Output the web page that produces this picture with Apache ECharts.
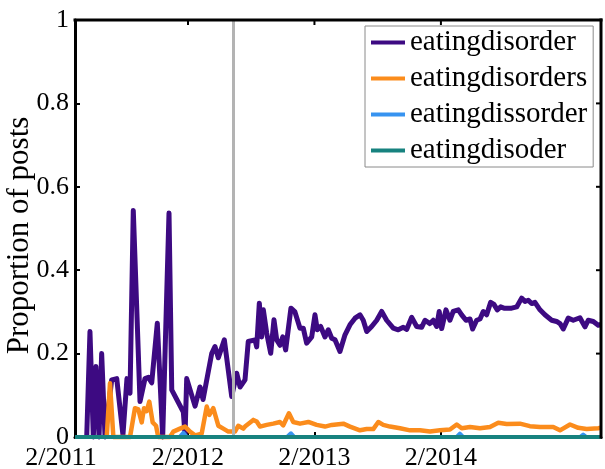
<!DOCTYPE html>
<html>
<head>
<meta charset="utf-8">
<script src="https://cdn.jsdelivr.net/npm/echarts@6/dist/echarts.min.js"></script>
<style>
  html, body { margin: 0; padding: 0; background: #fff; }
  #chart { width: 605px; height: 469px; background: #fff; }
</style>
</head>
<body>
<div id="chart"></div>
<script>
// x values are months since 2/2011
const xMin = 1.28;
const xMax = 51.19;
const xTickMonths = [0, 12, 24, 36];
const xTickLabels = ['2/2011', '2/2012', '2/2013', '2/2014'];
const markerMonth = 16.25;

const seriesNames = ['eatingdisorder', 'eatingdisorders', 'eatingdissorder', 'eatingdisoder'];
const seriesColors = ['#3d0a82', '#fb8c1c', '#3793f0', '#17827f'];

const purpleMonths = [2.39, 2.70, 3.02, 3.27, 3.56, 3.81, 4.13, 4.76, 5.24, 5.83, 6.21, 6.50, 6.81, 7.45, 7.92, 8.24, 8.56, 9.09, 9.60, 10.20, 10.46, 11.56, 11.72, 11.88, 12.67, 13.14, 13.43, 14.25, 14.56, 14.88, 15.45, 16.15, 16.62, 16.94, 17.41, 17.72, 18.36, 18.52, 18.77, 18.99, 19.15, 19.47, 19.85, 20.16, 20.42, 20.73, 20.99, 21.27, 21.77, 22.15, 22.63, 22.94, 23.26, 23.74, 24.05, 24.27, 24.59, 25.00, 25.31, 25.64, 25.95, 26.42, 26.90, 27.37, 27.85, 28.32, 28.63, 28.96, 29.43, 29.91, 30.38, 30.85, 31.48, 31.95, 32.43, 32.75, 33.23, 33.70, 34.17, 34.49, 34.96, 35.28, 35.60, 35.84, 36.07, 36.48, 36.86, 37.17, 37.65, 37.97, 38.38, 38.76, 39.01, 39.39, 39.71, 40.02, 40.34, 40.72, 41.03, 41.35, 41.67, 41.98, 42.30, 42.71, 43.19, 43.66, 43.98, 44.29, 44.61, 44.92, 45.40, 45.87, 46.51, 46.98, 47.30, 47.61, 48.08, 48.56, 49.19, 49.67, 49.98, 50.46, 50.93, 51.19];
const purpleValues = [0, 0.253, 0, 0.169, 0, 0.20, 0, 0.137, 0.14, 0.005, 0.14, 0.105, 0.543, 0.085, 0.14, 0.143, 0.13, 0.273, 0.0, 0.537, 0.113, 0.06, 0.005, 0.14, 0.074, 0.12, 0.09, 0.20, 0.217, 0.19, 0.233, 0.097, 0.153, 0.12, 0.137, 0.229, 0.233, 0.216, 0.321, 0.24, 0.305, 0.249, 0.201, 0.281, 0.233, 0.22, 0.24, 0.209, 0.309, 0.30, 0.261, 0.261, 0.225, 0.24, 0.293, 0.257, 0.265, 0.24, 0.257, 0.237, 0.233, 0.205, 0.245, 0.269, 0.285, 0.293, 0.28, 0.253, 0.265, 0.28, 0.301, 0.28, 0.261, 0.257, 0.263, 0.258, 0.287, 0.265, 0.263, 0.28, 0.272, 0.28, 0.265, 0.301, 0.26, 0.305, 0.28, 0.301, 0.305, 0.293, 0.28, 0.283, 0.259, 0.28, 0.283, 0.301, 0.293, 0.323, 0.318, 0.305, 0.312, 0.309, 0.309, 0.309, 0.312, 0.333, 0.325, 0.328, 0.32, 0.323, 0.305, 0.293, 0.28, 0.277, 0.272, 0.259, 0.285, 0.28, 0.286, 0.264, 0.28, 0.277, 0.268, 0.27];

const orangeMonths = [4.29, 4.60, 4.92, 6.50, 6.97, 7.29, 7.61, 7.83, 8.08, 8.33, 8.65, 8.97, 9.18, 10.29, 10.61, 11.24, 11.72, 12.19, 12.67, 13.30, 13.78, 14.03, 14.40, 14.88, 15.35, 15.83, 16.46, 16.77, 17.25, 17.41, 18.20, 18.52, 18.83, 19.47, 20.09, 20.73, 21.04, 21.58, 21.99, 22.63, 23.42, 24.21, 25.00, 25.64, 26.74, 27.37, 28.32, 28.96, 29.58, 30.06, 30.53, 31.17, 32.12, 33.07, 34.01, 34.96, 35.91, 36.86, 37.50, 37.97, 38.76, 39.71, 40.66, 41.44, 42.24, 43.50, 44.44, 45.40, 46.66, 47.30, 48.25, 49.03, 49.83, 50.93, 51.19];
const orangeValues = [0, 0.129, 0, 0, 0.069, 0.066, 0.035, 0.069, 0.062, 0.085, 0.035, 0.027, 0, 0, 0.013, 0.02, 0.025, 0.013, 0.004, 0.008, 0.073, 0.053, 0.069, 0.027, 0.02, 0.013, 0.013, 0.027, 0.02, 0.025, 0.041, 0.037, 0.025, 0.029, 0.032, 0.036, 0.028, 0.057, 0.036, 0.032, 0.036, 0.029, 0.025, 0.029, 0.032, 0.025, 0.016, 0.019, 0.019, 0.036, 0.029, 0.025, 0.021, 0.016, 0.016, 0.013, 0.016, 0.018, 0.030, 0.021, 0.024, 0.021, 0.024, 0.034, 0.031, 0.032, 0.026, 0.024, 0.024, 0.016, 0.03, 0.022, 0.019, 0.021, 0.022];

const blueMonths = [1.28, 11.2, 11.56, 11.9, 21.4, 21.77, 22.1, 37.5, 37.8, 38.1, 49.2, 49.5, 49.8, 51.19];
const blueValues = [0, 0, 0.01, 0, 0, 0.009, 0, 0, 0.008, 0, 0, 0.006, 0, 0];

const tealMonths = [1.28, 51.19];
const tealValues = [0, 0];

const yTickValues = [0, 0.2, 0.4, 0.6, 0.8, 1];

function zip(xs, ys) { return xs.map((x, i) => [x, ys[i]]); }

const serif = 'Liberation Serif';
const chart = echarts.init(document.getElementById('chart'), null, { renderer: 'canvas' });

const axisLineStyle = { color: '#000', width: 3 };
const tickStyle = { color: '#000', width: 2 };
const monthSeries = [
  [purpleMonths, purpleValues],
  [orangeMonths, orangeValues],
  [blueMonths, blueValues],
  [tealMonths, tealValues]
];
const lineWidths = [5, 4.5, 4, 4];

const option = {
  animation: false,
  grid: {
    left: 75, top: 20, right: 4, bottom: 32, outerBoundsMode: 'none'
  },
  legend: {
    orient: 'vertical',
    left: 365,
    top: 26,
    data: seriesNames,
    icon: 'rect',
    itemWidth: 34,
    itemHeight: 4,
    itemGap: 7,
    padding: [2, 6, 2, 6],
    backgroundColor: '#fff',
    borderColor: '#8a8a8a',
    borderWidth: 1,
    textStyle: { fontFamily: serif, fontSize: 29, color: '#000' },
    z: 10
  },
  xAxis: [
    {
      type: 'value', position: 'bottom', min: xMin, max: xMax,
      axisLine: { show: true, onZero: false, lineStyle: axisLineStyle },
      splitLine: { show: false },
      axisTick: { show: true, inside: true, length: 5, lineStyle: tickStyle, customValues: xTickMonths.slice(1) },
      axisLabel: {
        show: true, margin: 8, color: '#000', fontFamily: serif, fontSize: 26,
        customValues: [xMin].concat(xTickMonths.slice(1)),
        formatter: function (v) {
          if (Math.abs(v - xMin) < 1e-6) return '{first|' + xTickLabels[0] + '}';
          const i = xTickMonths.indexOf(Math.round(v));
          return i >= 0 ? xTickLabels[i] : '';
        },
        rich: { first: { fontFamily: serif, fontSize: 26, color: '#000', padding: [0, 28, 0, 0] } }
      }
    }
  ],
  yAxis: [
    {
      type: 'value', position: 'left', min: 0, max: 1, interval: 0.2,
      name: 'Proportion of posts', nameLocation: 'middle', nameGap: 40, nameMoveOverlap: false,
      nameTextStyle: { fontFamily: serif, fontSize: 31, color: '#000', padding: [0, 14, 0, 0] },
      axisLine: { show: true, onZero: false, lineStyle: axisLineStyle },
      splitLine: { show: false },
      axisTick: { show: true, inside: true, length: 5, lineStyle: tickStyle },
      axisLabel: {
        show: true, margin: 6, color: '#000', fontFamily: serif, fontSize: 26,
        formatter: function (v) {
          const i = yTickValues.findIndex(t => Math.abs(t - v) < 1e-9);
          return i >= 0 ? String(yTickValues[i]) : '';
        }
      }
    }
  ],
  series: seriesNames.map((name, k) => ({
    name: name,
    type: 'line',
    data: zip(monthSeries[k][0], monthSeries[k][1]),
    showSymbol: false,
    symbol: 'none',
    clip: false,
    color: seriesColors[k],
    lineStyle: { color: seriesColors[k], width: lineWidths[k], join: 'round' },
    z: 2 + k,
    markLine: k === 0 ? {
      silent: true, symbol: ['none', 'none'], label: { show: false },
      lineStyle: { color: '#b3b3b3', width: 3, type: 'solid' },
      data: [{ xAxis: markerMonth }]
    } : undefined
  }))
};
chart.setOption(option);

// Top and right frame edges with inward ticks, positioned through the chart's own scales
function px(x, y) { return chart.convertToPixel({ gridIndex: 0 }, [x, y]); }
const bl = px(xMin, 0);
const tr = px(xMax, 1);
const frame = [
  { type: 'line', z: 100, silent: true, shape: { x1: bl[0] - 1.5, y1: tr[1], x2: tr[0] + 1.5, y2: tr[1] }, style: { stroke: '#000', lineWidth: 3 } },
  { type: 'line', z: 100, silent: true, shape: { x1: tr[0], y1: tr[1] - 1.5, x2: tr[0], y2: bl[1] + 1.5 }, style: { stroke: '#000', lineWidth: 3 } }
];
yTickValues.slice(1, -1).forEach(function (v) {
  const p = px(xMax, v);
  frame.push({ type: 'line', z: 100, silent: true, shape: { x1: p[0], y1: p[1], x2: p[0] - 5, y2: p[1] }, style: { stroke: '#000', lineWidth: 2 } });
});
xTickMonths.slice(1).forEach(function (m) {
  const p = px(m, 1);
  frame.push({ type: 'line', z: 100, silent: true, shape: { x1: p[0], y1: p[1], x2: p[0], y2: p[1] + 5 }, style: { stroke: '#000', lineWidth: 2 } });
});
chart.setOption({ graphic: frame });
</script>
</body>
</html>
